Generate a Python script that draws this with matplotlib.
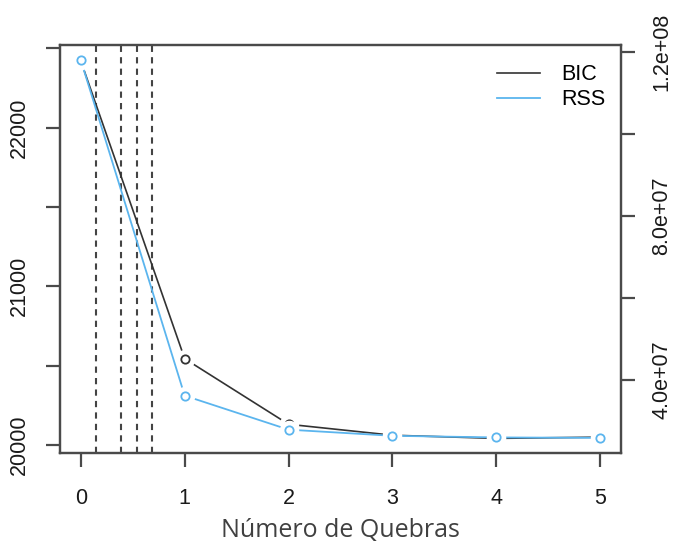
import matplotlib
matplotlib.use('Agg')
import matplotlib.pyplot as plt

# number of breaks vs BIC (left axis) and RSS (right axis)
breaks = [0, 1, 2, 3, 4, 5]
bic = [22420, 20544, 20131, 20062, 20042, 20050]
rss = [1.18e8, 3.61e7, 2.78e7, 2.63e7, 2.59e7, 2.58e7]
break_pos = [0.145, 0.385, 0.54, 0.684]

bic_ticks = [20000, 20500, 21000, 21500, 22000, 22500]
bic_labels = ['20000', '', '21000', '', '22000', '']
rss_ticks = [4e7, 6e7, 8e7, 1e8, 1.2e8]
rss_labels = ['4.0e+07', '', '8.0e+07', '', '1.2e+08']

blue = '#5BB5EE'
dark = '#333333'
box = '#4a4a4a'
txt = '#1a1a1a'

plt.rcParams['font.family'] = ['Liberation Sans', 'DejaVu Sans']

fig = plt.figure(figsize=(6.76, 5.45), dpi=100)
ax = fig.add_axes([0.0888, 0.1688, 0.8298, 0.7486])
ax2 = ax.twinx()

for b in break_pos:
    ax.axvline(b, color='#444444', lw=1.5, ls=(0, (3, 2.5)), zorder=1)

# BIC, R style type="b"
ax.plot(breaks, bic, color=dark, lw=1.2, zorder=2)
ax.plot(breaks, bic, ls='none', marker='o', ms=13, mfc='white', mec='white', zorder=3)
ax.plot(breaks, bic, ls='none', marker='o', ms=6, mfc='white', mec=dark, mew=1.3, zorder=4)

# RSS
ax2.plot(breaks, rss, color=blue, lw=1.3, zorder=2)
ax2.plot(breaks, rss, ls='none', marker='o', ms=13, mfc='white', mec='white', zorder=3)
ax2.plot(breaks, rss, ls='none', marker='o', ms=6, mfc='white', mec=blue, mew=1.3, zorder=4)

ax.set_xlim(-0.2, 5.2)
ax.set_ylim(19950, 22520)
ax2.set_ylim(2.21e7, 1.217e8)

ax.set_xticks(breaks)
ax.set_xticklabels([str(b) for b in breaks])
ax.set_yticks(bic_ticks)
ax.set_yticklabels(bic_labels, rotation=90, va='center')
ax2.set_yticks(rss_ticks)
ax2.set_yticklabels(rss_labels, rotation=90, va='center')

for a in (ax, ax2):
    for s in a.spines.values():
        s.set_color(box)
        s.set_linewidth(1.6)
ax.tick_params(axis='x', length=10, width=1.6, color=box, pad=15, labelsize=15.5, labelcolor=txt)
ax.tick_params(axis='y', length=10, width=1.6, color=box, pad=12, labelsize=15.5, labelcolor=txt)
ax2.tick_params(axis='y', length=10, width=1.6, color=box, pad=12, labelsize=15.5, labelcolor=txt)

ax.set_xlabel('Número de Quebras', family='Open Sans', fontsize=18, color='#404040', labelpad=7)

ax2.legend(handles=[plt.Line2D([], [], color=dark, lw=1.2, label='BIC'),
                    plt.Line2D([], [], color=blue, lw=1.3, label='RSS')],
           loc='upper right', bbox_to_anchor=(1.0, 0.99), frameon=False, fontsize=15.5,
           handlelength=2.0, handletextpad=1.0, borderaxespad=0.2, borderpad=0.5,
           labelspacing=0.2)

fig.savefig('out.png', dpi=100)
